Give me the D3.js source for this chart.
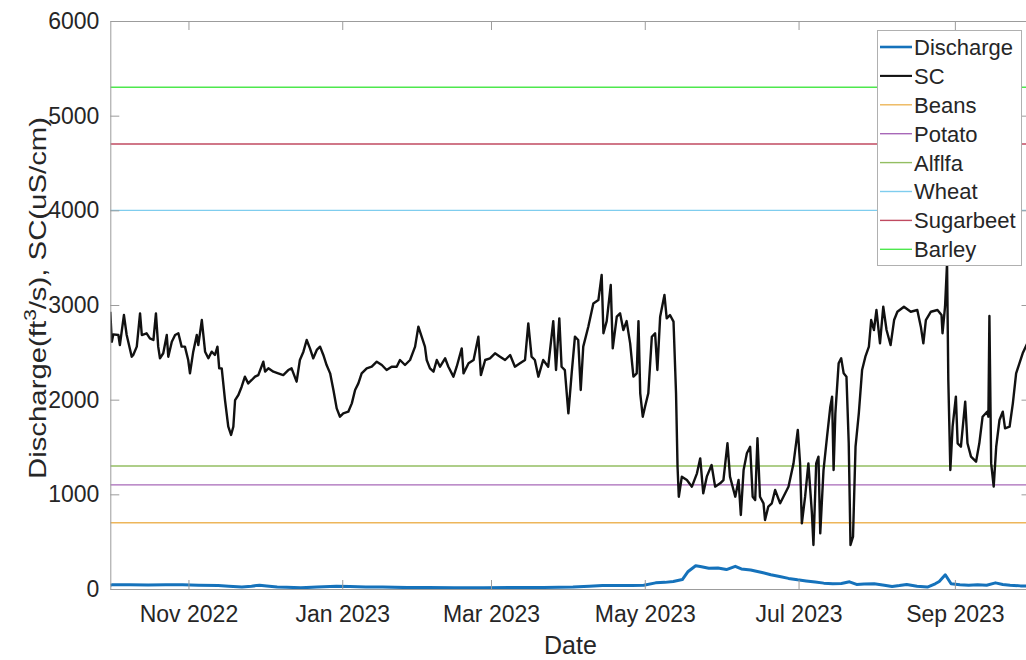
<!DOCTYPE html>
<html><head><meta charset="utf-8">
<script src="https://cdn.jsdelivr.net/npm/d3@7"></script>
<style>
body{margin:0;background:#fff;}
svg{display:block;font-family:"Liberation Sans",Arial,Helvetica,sans-serif;}
</style></head>
<body><svg id="chart" width="1026" height="660"></svg>
<script>
// ---- data ----
const startDate = "2022-10-01";
const endDate = "2023-10-01";
// SC (uS/cm): day offset since 2022-10-01, value
const scDays = [0,0.6,1.2,3.2,3.8,5.4,6.5,8.5,9.1,10.5,11.8,12.5,14.4,15.7,17.1,18.1,19.0,19.7,21.0,22.4,23.0,24.4,25.7,27.0,28.3,29.6,30.9,31.6,32.9,34.3,34.9,36.3,37.6,38.9,40.2,41.5,42.5,43.2,44.2,45.5,46.8,47.9,48.8,49.5,50.8,52.1,53.4,54.7,56.1,57.4,58.7,60.7,61.4,62.7,64.7,66.6,68.6,70.6,71.9,73.9,75.2,76.6,77.9,79.2,80.5,81.9,83.2,84.5,85.8,87.2,88.5,89.8,91.1,92.4,94.4,95.8,97.1,98.4,99.7,101.7,103.7,105.7,107.7,109.6,111.6,113.6,114.9,116.9,118.9,120.9,122.2,123.5,124.8,125.5,126.8,128.2,129.5,130.8,132.8,134.1,136.1,137.4,139.4,140.1,142.1,144.1,146.0,147.0,148.7,150.6,152.6,154.6,156.6,158.6,160.5,162.5,164.5,165.8,167.1,168.4,169.8,171.7,173.7,175.7,176.8,178.1,179.0,180.3,181.7,183.0,184.3,185.6,186.6,187.6,189.6,191.6,193.6,194.9,195.6,196.9,198.5,199.3,200.9,202.2,203.5,204.8,206.2,207.5,208.8,209.5,210.2,211.2,212.1,213.4,214.8,216.1,217.0,218.1,219.8,220.7,222.0,223.4,224.4,225.0,225.5,226.7,228.7,230.7,232.7,234.0,235.2,236.6,238.5,239.9,241.9,243.2,244.8,245.8,247.9,249.2,250.1,251.2,252.5,253.8,254.8,255.8,256.7,257.7,259.1,259.7,261.0,262.4,263.7,265.7,267.7,269.0,271.0,272.7,273.6,274.3,275.6,276.9,278.3,278.9,280.0,280.9,281.6,282.9,284.3,285.6,286.3,286.9,287.6,288.9,289.9,290.9,292.0,292.9,293.6,294.6,295.6,296.9,298.2,299.5,300.9,301.8,302.9,303.9,305.3,306.6,307.9,309.5,310.9,312.2,314.8,317.5,320.1,321.5,322.5,323.5,325.5,328.1,329.7,330.1,331.1,331.9,332.4,333.2,334.1,335.4,336.1,337.4,339.1,340.0,341.4,343.4,344.7,346.0,347.8,348.3,348.7,349.4,350.4,351.4,352.7,354.0,354.9,356.7,358.0,359.3,360.6,361.9,363.7,365];
const scValues = [2929,2612,2690,2683,2577,2894,2683,2454,2472,2560,2912,2683,2701,2648,2630,2912,2560,2437,2490,2683,2454,2612,2683,2701,2560,2560,2419,2278,2507,2683,2577,2841,2507,2437,2507,2472,2560,2331,2331,1996,1714,1627,1714,1996,2049,2137,2243,2172,2208,2243,2260,2401,2296,2331,2296,2278,2260,2313,2331,2190,2419,2507,2630,2542,2437,2525,2560,2472,2366,2278,2102,1908,1820,1856,1873,1961,2102,2172,2278,2331,2348,2401,2366,2313,2348,2348,2419,2366,2419,2560,2771,2665,2560,2419,2331,2296,2419,2348,2437,2348,2243,2348,2542,2278,2384,2419,2665,2260,2419,2437,2490,2454,2419,2472,2348,2384,2419,2806,2454,2419,2243,2419,2348,2830,2313,2859,2348,2313,1856,2278,2665,2630,2102,2560,2771,3017,3052,3317,2701,2830,3211,2542,2877,2912,2736,2830,2595,2243,2278,2830,2067,1820,1926,2067,2665,2701,2313,2877,3106,2859,2894,2824,2067,1292,975,1187,1151,1081,1222,1380,1011,1187,1310,1081,1116,1151,1539,1187,975,1151,782,1257,1433,1503,975,940,1592,975,905,729,870,905,1046,905,1011,1081,1327,1680,1327,693,975,1327,799,465,1327,1398,588,1257,1609,1926,2032,1257,1856,2384,2437,2278,2243,1539,465,553,1503,1856,2313,2454,2560,2841,2736,2947,2595,2982,2736,2577,2841,2929,2982,2929,2947,2771,2595,2841,2929,2947,2894,2701,2982,3443,2208,1257,1714,2032,1539,1503,1979,1539,1398,1345,1539,1820,1873,1820,2884,1327,1081,1503,1785,1873,1697,1714,1961,2278,2384,2490,2595,2620];
// Discharge (ft3/s)
const qDays = [0,0.6,7.7,15,22,28.7,35,42.8,47,52.2,56,59.2,62,66.2,70,75.6,82,89.7,95,101.4,108,117.8,126,136.6,148,160.0,172,183.5,190,195.2,200,206.9,211.6,216.3,220,223.3,226.9,229.2,232.2,234,237.4,241,244.4,247.9,250.3,254,258.5,262,265.5,269,272.6,276,279.6,283,286.6,290,293.2,296.0,299,303.0,307,310.1,313,315.9,320,324.1,327.2,328.8,331.2,333.5,337,340.5,344,347.6,351.1,354,356.9,361,365];
const qValues = [40,44,44,42,44,44,40,36,30,22,30,40,32,22,18,13,20,30,26,22,20,15,16,13,14,15,16,20,30,36,36,38,40,65,70,80,100,185,245,238,220,222,205,240,212,200,175,150,132,112,97,85,73,62,55,58,76,48,52,55,40,26,36,48,30,20,55,80,150,55,45,40,44,40,65,48,40,33,30];
// thresholds
const cropNames = ["Beans","Potato","Alflfa","Wheat","Sugarbeet","Barley"];
const cropValues = [700,1100,1300,4000,4700,5300];
const cropColors = ["#EDB65A","#A768B8","#93BE62","#7FCDEE","#C04A60","#4EE84E"];
const xTickDates = ["2022-11-01","2023-01-01","2023-03-01","2023-05-01","2023-07-01","2023-09-01"];
const yTicks = [0,1000,2000,3000,4000,5000,6000];

// ---- layout ----
const svg = d3.select("#chart");
const L = 110.3, R = 1030.5, T = 21, B = 589;
const parse = d3.timeParse("%Y-%m-%d");
const t0 = parse(startDate);
const x = d3.scaleTime().domain([t0, parse(endDate)]).range([L, R]);
const y = d3.scaleLinear().domain([0, 6000]).range([B, T]);
const dayToDate = d => new Date(t0.getTime() + d * 86400000);

const axisCol = "#9c9c9c", txtCol = "#262626";

svg.append("defs").append("clipPath").attr("id","clip")
  .append("rect").attr("x",L).attr("y",T).attr("width",R-L).attr("height",B-T);

// threshold lines
const plot = svg.append("g").attr("clip-path","url(#clip)");
cropValues.forEach((v,i)=>{
  plot.append("line").attr("x1",L).attr("x2",R).attr("y1",y(v)).attr("y2",y(v))
    .attr("stroke",cropColors[i]).attr("stroke-width",1.4);
});

// discharge + SC
const qData = qDays.map((d,i)=>({t:dayToDate(d), v:qValues[i]}));
const scData = scDays.map((d,i)=>({t:dayToDate(d), v:scValues[i]}));
const line = d3.line().x(d=>x(d.t)).y(d=>y(d.v));
plot.append("path").datum(qData).attr("d",line).attr("fill","none")
  .attr("stroke","#1572BB").attr("stroke-width",3).attr("stroke-linejoin","round");
plot.append("path").datum(scData).attr("d",line).attr("fill","none")
  .attr("stroke","#111").attr("stroke-width",2.4).attr("stroke-linejoin","round");

// axes
const xt = xTickDates.map(parse);
const gx = svg.append("g").attr("transform",`translate(0,${B})`)
  .call(d3.axisBottom(x).tickValues(xt).tickFormat(d3.timeFormat("%b %Y")).tickSize(-9).tickPadding(16).tickSizeOuter(0));
const gxt = svg.append("g").attr("transform",`translate(0,${T})`)
  .call(d3.axisTop(x).tickValues(xt).tickFormat("").tickSize(-9).tickSizeOuter(0));
const gy = svg.append("g").attr("transform",`translate(${L},0)`)
  .call(d3.axisLeft(y).tickValues(yTicks).tickFormat(d3.format("d")).tickSize(-9).tickPadding(11).tickSizeOuter(0));
const gyr = svg.append("g").attr("transform",`translate(${R},0)`)
  .call(d3.axisRight(y).tickValues(yTicks).tickFormat("").tickSize(-9).tickSizeOuter(0));
[gx,gxt,gy,gyr].forEach(g=>{
  g.select(".domain").attr("stroke",axisCol);
  g.selectAll(".tick line").attr("stroke",axisCol);
  g.selectAll("text").attr("fill",txtCol).attr("font-size",23).attr("font-family","Liberation Sans, Arial, sans-serif");
});
gx.selectAll(".tick text").attr("dy","0.72em");

// axis titles
svg.append("text").attr("x",(L+R)/2).attr("y",654).attr("text-anchor","middle")
  .attr("font-size",25).attr("fill",txtCol).text("Date");
const yl = svg.append("text").attr("transform","translate(46,298) rotate(-90)")
  .attr("text-anchor","middle").attr("font-size",24).attr("fill",txtCol)
  .attr("textLength",362).attr("lengthAdjust","spacingAndGlyphs");
yl.append("tspan").text("Discharge(ft");
yl.append("tspan").attr("dy",-10).attr("font-size",17).text("3");
yl.append("tspan").attr("dy",10).text("/s), SC(uS/cm)");

// legend
const legNames = ["Discharge","SC"].concat(cropNames);
const legColors = ["#1572BB","#111"].concat(cropColors);
const legW = [2.6,2.1,1.4,1.4,1.4,1.4,1.4,1.4];
const lg = svg.append("g");
lg.append("rect").attr("x",877.5).attr("y",30.5).attr("width",144).attr("height",235)
  .attr("fill","#fff").attr("stroke","#b0b0b0").attr("stroke-width",1);
legNames.forEach((n,i)=>{
  const yy = 47 + i*28.9;
  lg.append("line").attr("x1",880).attr("x2",912).attr("y1",yy).attr("y2",yy)
    .attr("stroke",legColors[i]).attr("stroke-width",legW[i]);
  lg.append("text").attr("x",914).attr("y",yy).attr("dy","0.36em")
    .attr("font-size",22).attr("fill",txtCol).text(n);
});
</script></body></html>
